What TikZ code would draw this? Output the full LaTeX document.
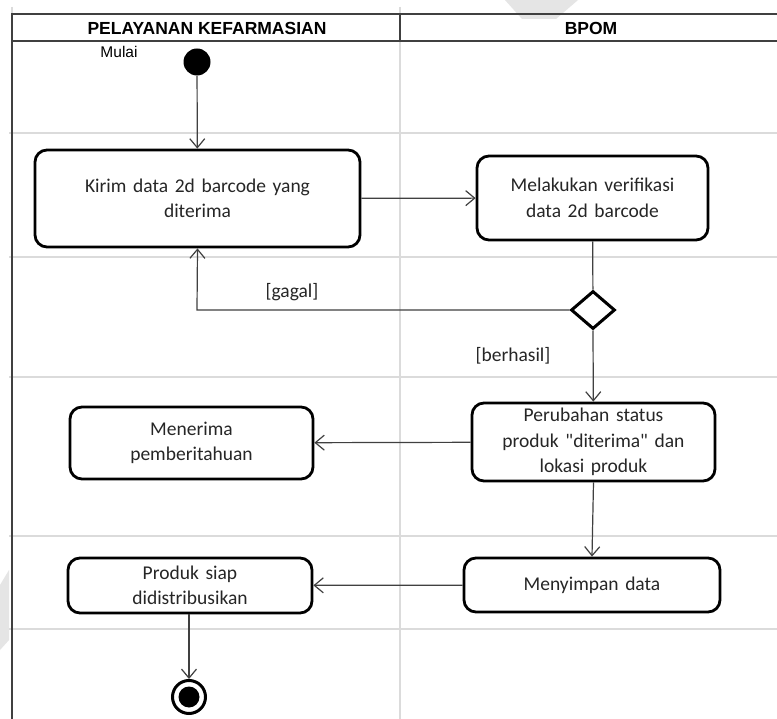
\documentclass[tikz,border=0pt]{standalone}
\usepackage{fontspec}
\setmainfont{Carlito}[Ligatures=TeXOff]
\newfontfamily\hdrfont{Liberation Sans}
\usetikzlibrary{arrows.meta,shapes.geometric}
\newcommand\actfont{\fontsize{19.5}{25.5}\selectfont}
\newcommand\widewords{\spaceskip=0.34em plus 0.1em\relax}

\begin{document}
\begin{tikzpicture}[x=1pt,y=-1pt,
  act/.style={draw=black,line width=2.8pt,rounded corners=12pt,fill=white,
    align=center,inner sep=0pt,text=black!85,font=\actfont,
    execute at begin node=\widewords},
  flow/.style={draw=black!75,line width=1.2pt,
    -{Straight Barb[length=9pt,width=15pt,line width=1.2pt]}},
  plain/.style={draw=black!75,line width=1.2pt},
  lane/.style={draw=black!14,line width=1.2pt},
  frame/.style={draw=black!75,line width=1.6pt},
  hdr/.style={font=\hdrfont\bfseries\fontsize{17.5}{19}\selectfont,text=black},
  guard/.style={font=\fontsize{19.5}{22}\selectfont,text=black!85},
  wmark/.style={fill=black!10,draw=none}
]
\useasboundingbox (0,0) rectangle (777,719);
\fill[white] (0,0) rectangle (777,719);

% faint watermark shapes
\path[wmark] (505,0) -- (578,0) -- (556,19) -- (522,19) -- cycle;
\path[wmark] (0,585) -- (9,570) -- (9,640) -- (0,650) -- cycle;

% swimlane grid
\foreach \yy in {133,257,377,536,629}
  \draw[lane] (9,\yy) -- (777,\yy);
\draw[lane] (400,7) -- (400,719);
\draw[lane] (12,7) -- (12,14);

% header and lane frame
\draw[frame] (777,14) -- (12,14) -- (12,719);
\draw[frame] (12,41) -- (777,41);
\draw[frame] (400,14) -- (400,41);
\node[hdr] (h1) at (207,28) {PELAYANAN KEFARMASIAN};
\node[hdr] (h2) at (591,28) {BPOM};

% start
\node[circle,fill=black,minimum size=27pt,inner sep=0pt] (start) at (197,62) {};
\node[font=\hdrfont\fontsize{15.5}{17}\selectfont,inner sep=0pt] (mulai) at (119,52) {Mulai};

% activities
\node[act,minimum width=325pt,minimum height=97pt] (kirim) at (197.5,198.5)
  {Kirim data 2d barcode yang\\diterima};
\node[act,minimum width=231pt,minimum height=84pt] (verif) at (592.5,198)
  {Melakukan verifikasi\\data 2d barcode};
\node[diamond,draw=black,line width=3pt,fill=white,minimum width=44pt,
  minimum height=38pt,inner sep=0pt] (dec) at (593,310) {};
\node[act,minimum width=243pt,minimum height=78pt] (ubah) at (593.5,442)
  {Perubahan status\\produk "diterima" dan\\lokasi produk};
\node[act,minimum width=243pt,minimum height=72pt] (terima) at (191.5,443)
  {Menerima\\pemberitahuan};
\node[act,minimum width=256pt,minimum height=54pt] (simpan) at (592,585)
  {Menyimpan data};
\node[act,minimum width=244pt,minimum height=55pt] (siap) at (190,585.5)
  {Produk siap\\didistribusikan};

% end
\node[circle,draw=black,line width=3pt,fill=white,minimum size=33pt,inner sep=0pt]
  (end) at (189,697) {};
\fill[black] (end.center) circle (10.5pt);

% guards
\node[guard] (lg) at (292,292) {[gagal]};
\node[guard] (lb) at (513,356) {[berhasil]};

% flows
\draw[flow] (start) -- (kirim);
\draw[flow] (kirim) -- (verif);
\draw[plain] (verif) -- (dec);
\draw[flow] (dec.west) -- (197,310) -- (kirim.south);
\draw[flow] (dec.south) -- (ubah);
\draw[flow] (ubah) -- (terima);
\draw[flow] (ubah.south) -- (simpan.north);
\draw[flow] (simpan) -- (siap);
\draw[flow] (siap.south -| end) -- (end);
\end{tikzpicture}
\end{document}
